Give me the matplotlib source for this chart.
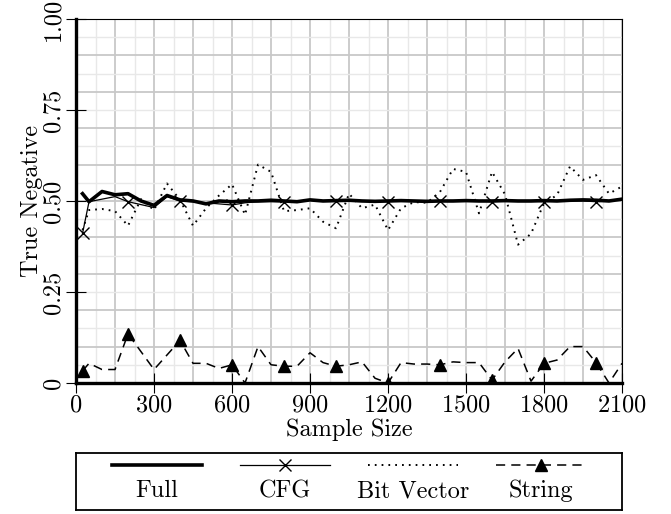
import matplotlib
matplotlib.use('Agg')
import matplotlib.pyplot as plt
from matplotlib.ticker import FixedLocator, FixedFormatter

plt.rcParams['font.family'] = 'cmr10'
plt.rcParams['mathtext.fontset'] = 'cm'
plt.rcParams['axes.formatter.use_mathtext'] = True

# sample sizes
sizes = [25] + list(range(50, 2101, 50))

full = [0.520, 0.498, 0.526, 0.517, 0.520, 0.500, 0.488, 0.515, 0.503, 0.500,
        0.492, 0.500, 0.498, 0.500, 0.500, 0.502, 0.500, 0.498, 0.503, 0.500,
        0.501, 0.502, 0.500, 0.499, 0.500, 0.501, 0.500, 0.499, 0.500, 0.500,
        0.501, 0.500, 0.500, 0.501, 0.500, 0.500, 0.501, 0.500, 0.502, 0.503,
        0.502, 0.500, 0.505]
cfg = [0.411, 0.498, 0.505, 0.512, 0.498, 0.490, 0.482, 0.512, 0.500, 0.498,
       0.495, 0.492, 0.489, 0.495, 0.498, 0.498, 0.498, 0.500, 0.502, 0.500,
       0.500, 0.500, 0.500, 0.500, 0.498, 0.500, 0.500, 0.500, 0.500, 0.500,
       0.500, 0.500, 0.498, 0.500, 0.500, 0.500, 0.498, 0.500, 0.500, 0.500,
       0.498, 0.500, 0.505]
bit_vector = [0.420, 0.475, 0.478, 0.472, 0.432, 0.505, 0.475, 0.548, 0.503, 0.432,
              0.480, 0.515, 0.546, 0.462, 0.600, 0.580, 0.472, 0.475, 0.480, 0.443,
              0.425, 0.520, 0.480, 0.490, 0.420, 0.480, 0.497, 0.495, 0.525, 0.588,
              0.580, 0.466, 0.580, 0.518, 0.380, 0.410, 0.494, 0.516, 0.595, 0.558,
              0.571, 0.520, 0.540]
string = [0.033, 0.054, 0.037, 0.037, 0.135, 0.086, 0.037, 0.077, 0.117, 0.054,
          0.054, 0.040, 0.050, 0.000, 0.100, 0.050, 0.046, 0.046, 0.083, 0.056,
          0.046, 0.050, 0.058, 0.013, 0.000, 0.056, 0.052, 0.052, 0.050, 0.058,
          0.056, 0.056, 0.008, 0.058, 0.095, 0.005, 0.054, 0.063, 0.100, 0.100,
          0.056, 0.000, 0.054]

x_ticks = [0, 300, 600, 900, 1200, 1500, 1800, 2100]
y_ticks = [0, 0.25, 0.5, 0.75, 1.0]
y_labels = ['0', '0.25', '0.50', '0.75', '1.00']
labels = ['Full', 'CFG', 'Bit Vector', 'String']

FS = 17.5
DOTS = (0, (0.9, 2.6))

fig = plt.figure(figsize=(6.71, 5.14), dpi=100)
ax = fig.add_axes([0.1133, 0.2549, 0.8137, 0.7082])

# grid: light every 75 / 0.05, darker every 150 / 0.1
for i, v in enumerate(range(0, 2101, 75)):
    ax.axvline(v, color='#c8c8c8' if i % 2 == 0 else '#e8e8e8',
               lw=1.3 if i % 2 == 0 else 1.0, zorder=0)
for i in range(21):
    ax.axhline(i * 0.05, color='#c8c8c8' if i % 2 == 0 else '#e8e8e8',
               lw=1.3 if i % 2 == 0 else 1.0, zorder=0)

ax.plot(sizes, full, color='black', lw=2.6, zorder=3)
ax.plot(sizes, cfg, color='black', lw=0.9, marker='x', markevery=4,
        markersize=8, markeredgewidth=1.0, zorder=4)
ax.plot(sizes, bit_vector, color='black', lw=1.4, linestyle=DOTS, zorder=3)
ax.plot(sizes, string, color='black', lw=1.1, linestyle=(0, (6, 4)),
        marker='^', markevery=4, markersize=8, zorder=4)

ax.set_xlim(0, 2100)
ax.set_ylim(0, 1.0)
ax.xaxis.set_major_locator(FixedLocator(x_ticks))
ax.yaxis.set_major_locator(FixedLocator(y_ticks))
ax.yaxis.set_major_formatter(FixedFormatter(y_labels))
ax.tick_params(direction='inout', length=14, width=0.8, labelsize=FS, pad=1)
ax.tick_params(axis='y', labelrotation=90)
for lbl in ax.get_yticklabels():
    lbl.set_va('center')

ax.spines['left'].set_linewidth(2.4)
ax.spines['bottom'].set_linewidth(2.4)
ax.spines['top'].set_linewidth(0.8)
ax.spines['right'].set_linewidth(0.8)
for s in ax.spines.values():
    s.set_zorder(5)

ax.set_xlabel('Sample Size', fontsize=FS, labelpad=2)
ax.set_ylabel('True Negative', fontsize=FS, labelpad=0)

# legend box below the plot, handles above labels
leg = fig.add_axes([0.1133, 0.0078, 0.8137, 0.1109])
leg.set_xlim(0, 1)
leg.set_ylim(0, 1)
leg.set_xticks([])
leg.set_yticks([])
for s in leg.spines.values():
    s.set_linewidth(1.3)

centers = [0.148, 0.383, 0.617, 0.852]
half = 0.083
hy = 0.79
leg.plot([centers[0] - half, centers[0] + half], [hy, hy], color='black', lw=2.6)
leg.plot([centers[1] - half, centers[1] + half], [hy, hy], color='black', lw=0.9)
leg.plot([centers[1]], [hy], color='black', marker='x', markersize=8, markeredgewidth=1.0)
leg.plot([centers[2] - half, centers[2] + half], [hy, hy], color='black', lw=1.4,
         linestyle=DOTS)
leg.plot([centers[3] - half, centers[3] + half], [hy, hy], color='black', lw=1.1,
         linestyle=(0, (6, 4)))
leg.plot([centers[3]], [hy], color='black', marker='^', markersize=8)
for c, name in zip(centers, labels):
    leg.text(c, 0.33, name, ha='center', va='center', fontsize=FS)

fig.savefig('out.png', dpi=100)
